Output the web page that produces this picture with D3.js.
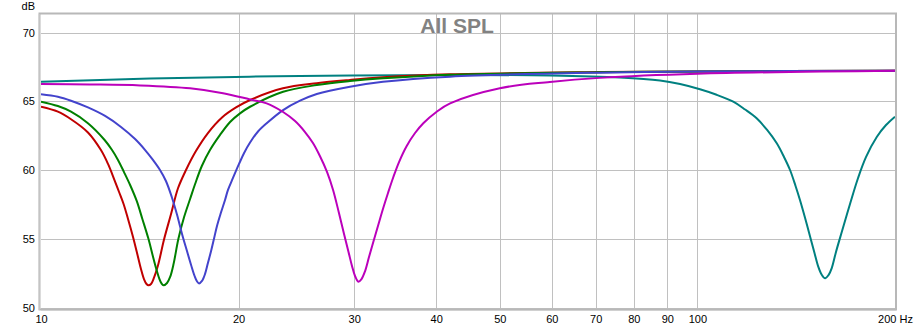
<!DOCTYPE html>
<html><head><meta charset="utf-8">
<script src="https://cdn.jsdelivr.net/npm/d3@7"></script>
<style>html,body{margin:0;padding:0;background:#fff;}svg{display:block;font-family:"Liberation Sans",Arial,sans-serif;}</style>
</head><body><svg id="c" width="915" height="333"></svg>
<script>
const title = "All SPL";
const yUnit = "dB";
const xTicks = [10,20,30,40,50,60,70,80,90,100,200];
const xTickLabels = ["10","20","30","40","50","60","70","80","90","100","200 Hz"];
const yTicks = [50,55,60,65,70];
const seriesNames = ["red","green","blue","magenta","teal"];
const seriesColors = ["#c00000","#008000","#4343cc","#bb00bb","#008080"];

const redFreq = [10,10.61,11.11,11.79,12.34,12.65,12.94,13.15,13.36,13.57,13.81,14.03,14.20,14.35,14.48,14.58,14.71,14.86,15.08,15.39,15.78,16.17,16.63,17.22,17.96,18.87,19.82,20.82,23.37,26.31,29.56,33.19,42.0,71,100,200];
const redDb   = [64.60,64.24,63.69,62.73,61.45,60.44,59.27,58.40,57.53,56.44,55.13,53.82,52.80,52.07,51.71,51.61,51.71,52.15,53.09,54.91,56.80,58.67,60.0,61.38,62.69,63.82,64.55,65.09,65.94,66.31,66.55,66.74,66.96,67.12,67.17,67.22];

const greenFreq = [10,10.61,11.11,11.79,12.50,12.83,13.10,13.38,13.67,13.99,14.27,14.57,14.79,14.97,15.13,15.26,15.37,15.56,15.73,15.92,16.19,16.52,16.87,17.17,17.58,18.09,18.74,19.41,20.10,20.82,23.38,26.31,29.56,33.19,42.0,71,100,200];
const greenDb   = [64.97,64.65,64.24,63.40,62.18,61.45,60.73,59.85,58.91,57.75,56.44,55.03,53.82,52.87,52.15,51.75,51.61,51.78,52.22,53.16,54.98,56.58,57.89,58.98,60.29,61.45,62.55,63.49,64.12,64.60,65.69,66.18,66.47,66.67,66.93,67.11,67.17,67.22];

const blueFreq = [10,10.61,11.11,11.79,12.52,13.24,13.91,14.41,14.81,15.18,15.50,15.82,16.12,16.40,16.67,16.93,17.14,17.29,17.41,17.59,17.78,17.96,18.16,18.35,18.54,18.77,19.07,19.27,19.61,20.03,20.39,20.82,21.41,22.07,23.38,24.81,26.31,29.56,33.19,42.0,71,100,200];
const blueDb   = [65.51,65.33,65.04,64.55,63.93,63.13,62.25,61.45,60.73,60.0,59.20,58.04,56.73,55.35,54.18,53.09,52.29,51.89,51.75,51.93,52.44,53.24,54.11,55.02,55.93,56.80,57.82,58.55,59.42,60.44,61.24,62.0,62.80,63.40,64.36,65.04,65.53,66.06,66.42,66.79,67.08,67.16,67.22];

const magentaFreq = [10,11.87,14.16,16.87,18.94,20.82,22.07,23.38,24.38,25.25,25.96,26.61,27.28,27.86,28.44,28.95,29.41,29.77,30.09,30.44,30.78,31.17,31.60,32.08,32.61,33.22,33.78,34.42,35.11,36.07,37.14,38.23,40.07,42.0,50.0,59.6,71.0,100,200];
const magentaDb   = [66.25,66.22,66.15,65.94,65.58,65.13,64.85,64.22,63.56,62.76,61.96,61.0,59.85,58.55,56.87,55.35,54.04,53.02,52.29,51.88,52.07,52.65,53.67,54.76,55.93,57.24,58.33,59.49,60.58,61.75,62.69,63.40,64.24,64.85,65.95,66.40,66.70,67.0,67.22];

const tealFreq = [10,14.66,24.81,42.0,59.6,76.2,87.7,94.1,100.9,106.7,113.4,118.2,123.1,127.7,132.1,135.5,138.4,141.1,143.3,145.9,148.5,150.8,152.8,154.6,156.5,158.4,160.2,162.6,166.1,170.8,175.7,180.7,187.6,193.8,200];
const tealDb   = [66.42,66.65,66.84,66.91,66.87,66.73,66.51,66.25,65.87,65.49,64.97,64.40,63.76,62.91,61.94,60.95,60.0,58.84,57.82,56.51,55.15,53.96,52.97,52.40,52.12,52.36,52.87,54.04,55.56,57.53,59.42,60.95,62.40,63.27,63.88];

const seriesFreq = [redFreq,greenFreq,blueFreq,magentaFreq,tealFreq];
const seriesDb = [redDb,greenDb,blueDb,magentaDb,tealDb];

const L=41,R=895,T=14,B=308;
const svg = d3.select("#c");
const x = d3.scaleLog().domain([10,200]).range([L,R]);
const y = d3.scaleLinear().domain([50,70]).range([307.5,32.5]);

// grid
const g = svg.append("g");
g.selectAll("line.v").data(xTicks.slice(1,-1)).join("line")
  .attr("x1",d=>Math.round(x(d))+0.5).attr("x2",d=>Math.round(x(d))+0.5)
  .attr("y1",T).attr("y2",B).attr("stroke","#c0c0c0").attr("stroke-width",1);
g.selectAll("line.h").data(yTicks).join("line")
  .attr("x1",L).attr("x2",R).attr("y1",d=>Math.round(y(d))+0.5).attr("y2",d=>Math.round(y(d))+0.5)
  .attr("stroke","#c0c0c0").attr("stroke-width",1);

// title
svg.append("text").attr("x",457).attr("y",33).attr("text-anchor","middle")
  .attr("font-size",21).attr("font-weight","bold").attr("fill","#828282").text(title);

// curves
svg.append("clipPath").attr("id","clp").append("rect").attr("x",L).attr("y",T).attr("width",R-L).attr("height",B-T);
const order = [4,0,1,2,3];
const lines = svg.append("g").attr("clip-path","url(#clp)");
order.forEach(i=>{
  const pts = seriesFreq[i].map((f,k)=>[f,seriesDb[i][k]]);
  const line = d3.line().x(d=>x(d[0])).y(d=>y(d[1])).curve(d3.curveCatmullRom.alpha(0.5));
  lines.append("path").attr("d",line(pts)).attr("fill","none")
    .attr("stroke",seriesColors[i]).attr("stroke-width",2).attr("stroke-linejoin","round");
});

// frame
svg.append("rect").attr("x",L-1.5).attr("y",T-0.5).attr("width",R-L+2.5).attr("height",B-T+2)
  .attr("fill","none").attr("stroke","#b8b8b8").attr("stroke-width",2);
svg.append("line").attr("x1",L-2).attr("x2",L-2).attr("y1",T).attr("y2",B+2).attr("stroke","#d0d0d0").attr("stroke-width",1);
svg.append("line").attr("x1",L).attr("x2",R+1).attr("y1",B+2.5).attr("y2",B+2.5).attr("stroke","#d0d0d0").attr("stroke-width",1);

// axis labels
const ya = d3.axisLeft(y).tickValues(yTicks).tickSize(0).tickPadding(0).tickFormat(d3.format("d"));
const yg = svg.append("g").attr("transform","translate(35,0)").call(ya);
yg.select(".domain").remove();
yg.selectAll("text").attr("font-size",11).attr("fill","#000").attr("font-family","Liberation Sans, Arial, sans-serif");
svg.append("text").attr("x",35).attr("y",10).attr("text-anchor","end").attr("font-size",11).attr("fill","#000").text(yUnit);

const xa = d3.axisBottom(x).tickValues(xTicks).tickSize(0).tickPadding(0).tickFormat((d,i)=>xTickLabels[i]);
const xg = svg.append("g").attr("transform","translate(0,315)").call(xa);
xg.select(".domain").remove();
xg.selectAll("text").attr("font-size",11).attr("fill","#000").attr("font-family","Liberation Sans, Arial, sans-serif");
</script></body></html>
